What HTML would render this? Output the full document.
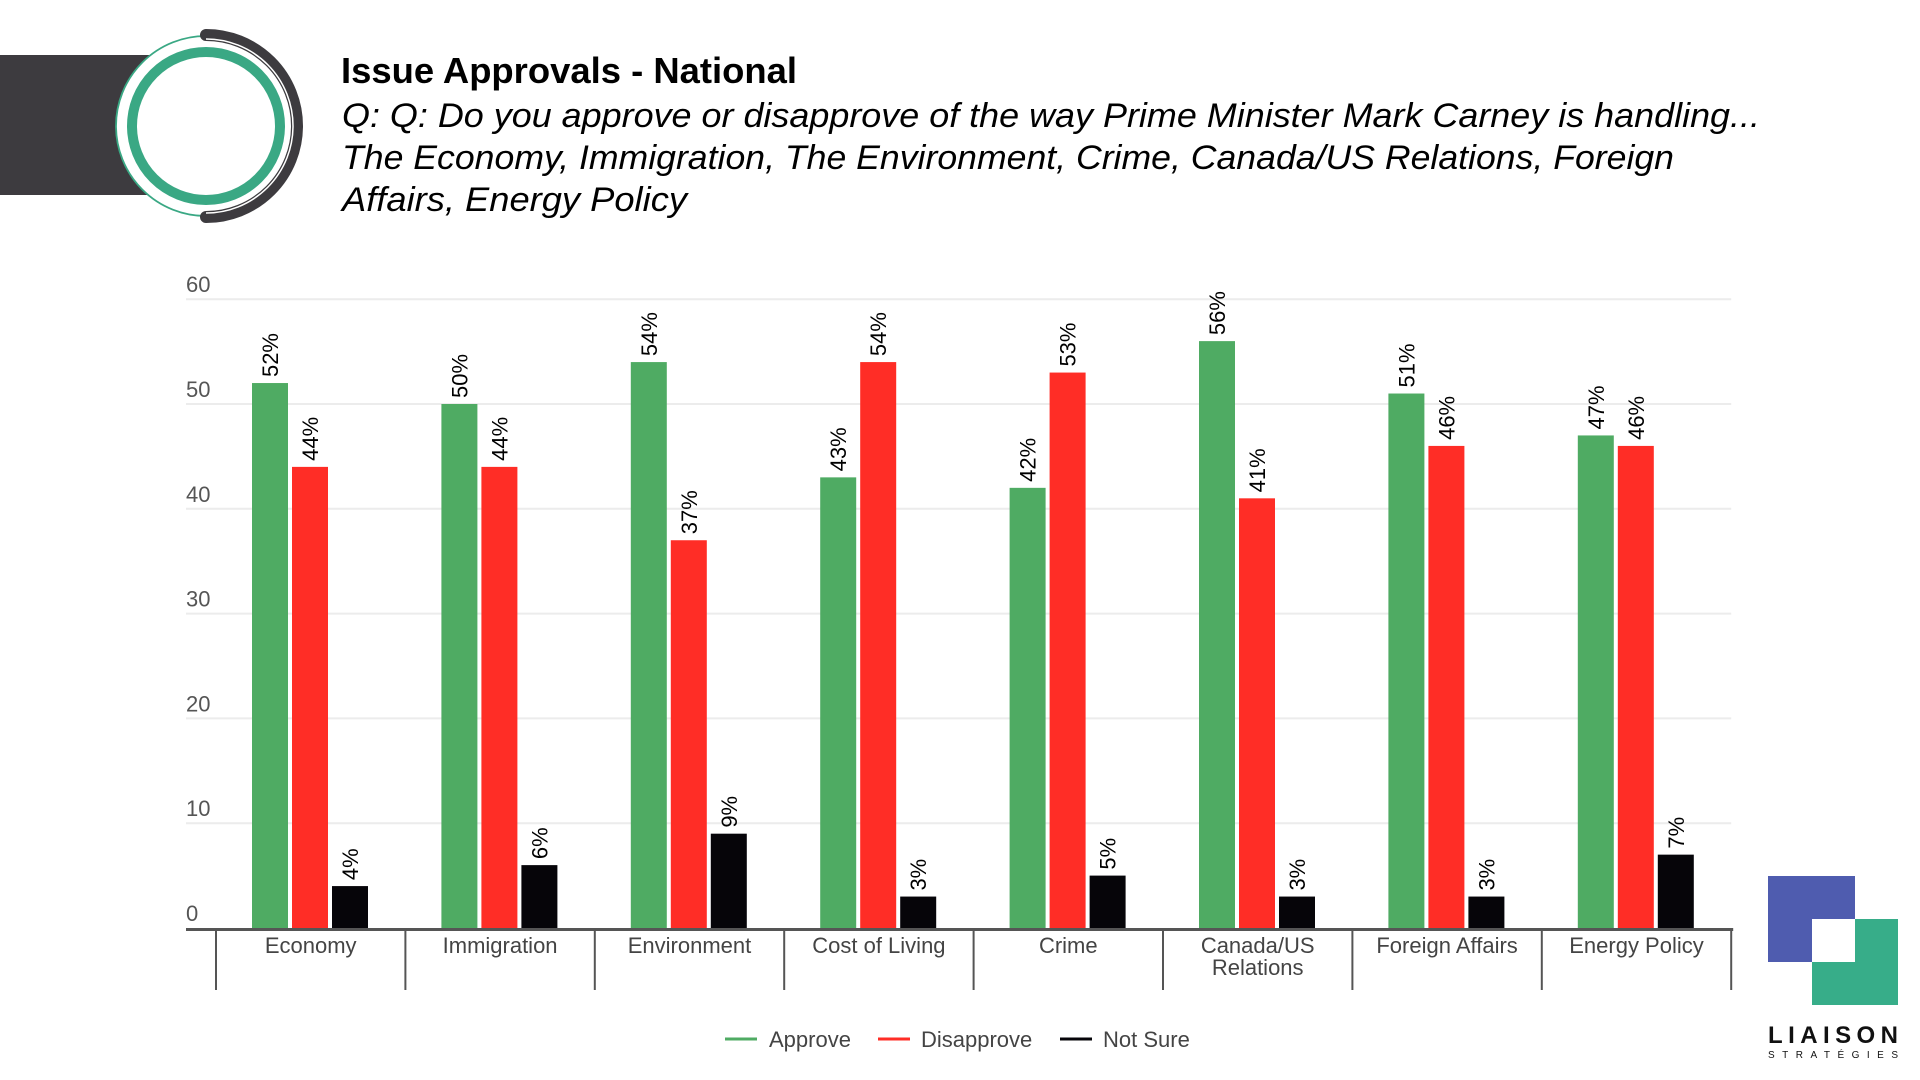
<!DOCTYPE html>
<html><head><meta charset="utf-8"><style>
html,body{margin:0;padding:0;background:#fff;width:1920px;height:1080px;overflow:hidden}
svg{display:block;font-family:"Liberation Sans",sans-serif}
</style></head><body>
<svg id="chart" width="1920" height="1080" viewBox="0 0 1920 1080">
  <g>
    <rect x="0" y="55" width="180" height="140" fill="#3d3b3f"/>
    <circle cx="206" cy="126" r="90" fill="#fff" stroke="#3aa884" stroke-width="1.8"/>
    <path d="M206 35 A91 91 0 0 1 206 217" fill="none" stroke="#3d3b3f" stroke-width="12" stroke-linecap="round"/>
    <path d="M206 39 A87 87 0 0 1 206 213" fill="none" stroke="#fff" stroke-width="1.5"/>
    <circle cx="206" cy="126" r="74" fill="#fff" stroke="#3aa884" stroke-width="10"/>
  </g>
  <text x="341" y="83" font-size="36" font-weight="bold" fill="#000" textLength="456" lengthAdjust="spacingAndGlyphs">Issue Approvals - National</text>
  <g font-size="34" font-style="italic" fill="#000">
    <text x="342" y="127" textLength="1418" lengthAdjust="spacingAndGlyphs">Q: Q: Do you approve or disapprove of the way Prime Minister Mark Carney is handling...</text>
    <text x="342" y="169" textLength="1332" lengthAdjust="spacingAndGlyphs">The Economy, Immigration, The Environment, Crime, Canada/US Relations, Foreign</text>
    <text x="342" y="211" textLength="345" lengthAdjust="spacingAndGlyphs">Affairs, Energy Policy</text>
  </g>
  <g id="grid"></g>
  <g id="yticks"></g>
  <g id="bars"></g>
  <g id="xaxis"></g>
  <g font-size="22" fill="#444">
    <g><line x1="725" y1="1039" x2="757" y2="1039" stroke="#4fab63" stroke-width="3"/><text x="769" y="1047">Approve</text></g>
    <g><line x1="878" y1="1039" x2="910" y2="1039" stroke="#ff2d26" stroke-width="3"/><text x="921" y="1047">Disapprove</text></g>
    <g><line x1="1060" y1="1039" x2="1092" y2="1039" stroke="#060509" stroke-width="3"/><text x="1103" y="1047">Not Sure</text></g>
  </g>
  <g>
    <rect x="1768" y="876" width="87" height="86" fill="#4f5caf"/>
    <rect x="1812" y="919" width="86" height="86" fill="#37ad89"/>
    <rect x="1812" y="919" width="43" height="43" fill="#fff"/>
    <text x="1768" y="1043" font-size="24" font-weight="bold" fill="#111" textLength="130" lengthAdjust="spacing">LIAISON</text>
    <text x="1768" y="1058" font-size="10" fill="#111" textLength="130" lengthAdjust="spacing">STRATÉGIES</text>
  </g>
</svg>
<script>
const categories = ["Economy","Immigration","Environment","Cost of Living","Crime","Canada/US|Relations","Foreign Affairs","Energy Policy"];
const approve = [52,50,54,43,42,56,51,47];
const disapprove = [44,44,37,54,53,41,46,46];
const notSure = [4,6,9,3,5,3,3,7];
const yTicks = [0,10,20,30,40,50,60];

const NS="http://www.w3.org/2000/svg";
const x0=216, catW=189.4, zeroY=928, pxPerUnit=10.48;
const yScale=v=>zeroY-v*pxPerUnit;
const catX=i=>x0+i*catW;
function mk(tag,attrs,parent){const e=document.createElementNS(NS,tag);for(const k in attrs)e.setAttribute(k,attrs[k]);parent.appendChild(e);return e;}
const grid=document.getElementById('grid'),yt=document.getElementById('yticks'),bars=document.getElementById('bars'),xa=document.getElementById('xaxis');
const xEnd=catX(categories.length);
yTicks.forEach(t=>{
  if(t>0){const l=mk('line',{x1:186,x2:xEnd,y1:yScale(t),y2:yScale(t),stroke:'#ececec','stroke-width':2},grid);
  
  }
  const tx=mk('text',{x:186,y:yScale(t)-7,'font-size':22,fill:'#555'},yt);
  tx.textContent=t;
  
  
});
const series=[{v:approve,c:'#4fab63',n:'approve'},{v:disapprove,c:'#ff2d26',n:'disapprove'},{v:notSure,c:'#060509',n:'not-sure'}];
categories.forEach((cat,i)=>{
  series.forEach((s,j)=>{
    const bx=catX(i)+36+j*40, val=s.v[i], top=yScale(val);
    const r=mk('rect',{x:bx,y:top,width:36,height:zeroY-top,fill:s.c},bars);
    
    
    const t=mk('text',{transform:`translate(${bx+26},${top-6}) rotate(-90)`,'font-size':22,fill:'#000'},bars);
    t.textContent=val+'%';
    
    
  });
  const parts=cat.split('|');
  parts.forEach((p,k)=>{
    const t=mk('text',{x:catX(i)+catW/2,y:953+k*22,'text-anchor':'middle','font-size':22,fill:'#444'},xa);
    t.textContent=p;
    
    
  });
});
const ax=mk('line',{x1:186,x2:xEnd+2,y1:929.5,y2:929.5,stroke:'#555','stroke-width':3},xa);


for(let i=0;i<=categories.length;i++){
  const l=mk('line',{x1:catX(i),x2:catX(i),y1:929,y2:990,stroke:'#555','stroke-width':2},xa);
  
  
}
</script>
</body></html>
